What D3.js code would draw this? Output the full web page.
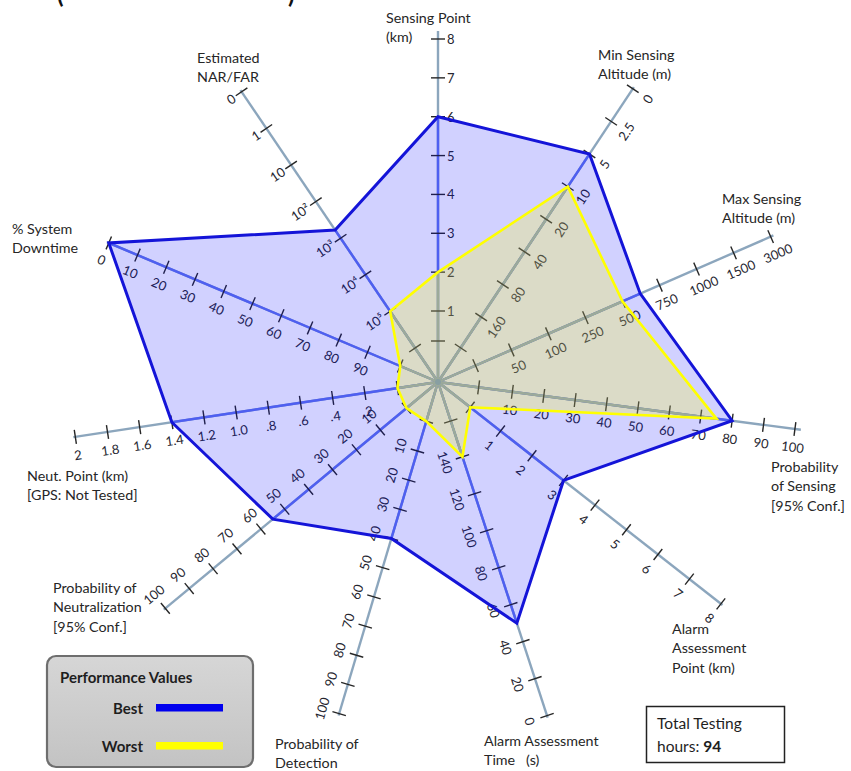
<!DOCTYPE html>
<html>
<head>
<meta charset="utf-8">
<script src="https://cdn.jsdelivr.net/npm/d3@7"></script>
<style>
  body { margin: 0; background: #ffffff; }
  svg { display: block; font-family: Lato, "Open Sans", "Noto Sans", sans-serif; }
</style>
</head>
<body>
<svg id="chart" width="851" height="771"></svg>
<script>
// ---- Data -------------------------------------------------------------
const axisNames = [
  ["Sensing Point", "(km)"],
  ["Min Sensing", "Altitude (m)"],
  ["Max Sensing", "Altitude (m)"],
  ["Probability", "of Sensing", "[95% Conf.]"],
  ["Alarm", "Assessment", "Point (km)"],
  ["Alarm Assessment", "Time   (s)"],
  ["Probability of", "Detection"],
  ["Probability of", "Neutralization", "[95% Conf.]"],
  ["Neut. Point (km)", "[GPS: Not Tested]"],
  ["% System", "Downtime"],
  ["Estimated", "NAR/FAR"]
];

// tick values on each axis, listed from the centre outwards
const tickValues = [
  [1, 2, 3, 4, 5, 6, 7, 8],
  [160, 80, 40, 20, 10, 5, 2.5, 0],
  [50, 100, 250, 500, 750, 1000, 1500, 3000],
  [10, 20, 30, 40, 50, 60, 70, 80, 90, 100],
  [1, 2, 3, 4, 5, 6, 7, 8],
  [140, 120, 100, 80, 60, 40, 20, 0],
  [10, 20, 30, 40, 50, 60, 70, 80, 90, 100],
  [10, 20, 30, 40, 50, 60, 70, 80, 90, 100],
  [0.2, 0.4, 0.6, 0.8, 1.0, 1.2, 1.4, 1.6, 1.8, 2],
  [90, 80, 70, 60, 50, 40, 30, 20, 10, 0],
  [1e5, 1e4, 1e3, 100, 10, 1, 0]
];

const tickLabels = [
  ["1", "2", "3", "4", "5", "6", "7", "8"],
  ["160", "80", "40", "20", "10", "5", "2.5", "0"],
  ["50", "100", "250", "500", "750", "1000", "1500", "3000"],
  ["10", "20", "30", "40", "50", "60", "70", "80", "90", "100"],
  ["1", "2", "3", "4", "5", "6", "7", "8"],
  ["140", "120", "100", "80", "60", "40", "20", "0"],
  ["10", "20", "30", "40", "50", "60", "70", "80", "90", "100"],
  ["10", "20", "30", "40", "50", "60", "70", "80", "90", "100"],
  [".2", ".4", ".6", ".8", "1.0", "1.2", "1.4", "1.6", "1.8", "2"],
  ["90", "80", "70", "60", "50", "40", "30", "20", "10", "0"],
  ["10\u2075", "10\u2074", "10\u00B3", "10\u00B2", "10", "1", "0"]
];

// value that sits on the unlabelled inner ring tick (null where none)
const ringValues = [0, null, null, 0, 0, null, 0, 0, 0, 100, null];

const seriesNames = ["Best", "Worst"];
const bestValues  = [6, 5, 620, 80, 3, 50, 40, 55, 1.4, 0, 800];
const worstValues = [2, 10, 500, 75, 0, 140, 0, 0, 0, 100, 1e5];

const legendTitle = "Performance Values";
const totalHours = 94;

// ---- Layout -----------------------------------------------------------
const cx = 438, cy = 382, ringR = 41;
const axisAngles = [-90, -56.4, -23.6, 7.5, 38.1, 71.9, 106.6, 140.3, 171.4, 202.9, 235.9];
const firstR = [71, 78, 80, 75, 79.5, 78.7, 72, 75, 74, 76.5, 85.3];
const lastR  = [343, 352, 363, 360, 359.5, 351, 346, 354.4, 366.8, 357.4, 350.4];
const lineExtra = [8, 2, 3, 6, 2, 2, 2, 2, 2, 2, 2];
const labelSide = [1, 1, 1, 1, 1, 1, 1, 1, -1, -1, -1];
const labelPerp = [true, false, false, false, false, false, false, false, false, false, true];
const titlePos = [[386, 17], [598, 54], [722, 198], [771, 466], [672, 628],
                  [484, 740], [275, 743], [53, 587], [27, 475], [12, 228], [197, 57]];
const seriesColors = ["#1414d8", "#ffff00"];
const seriesFill = ["rgba(0,0,255,0.18)", "rgba(255,255,0,0.22)"];
const axisColors = ["#8ca6bd", "#6074ee", "#9db4ba"]; // plain, inside best, inside worst

const svg = d3.select("#chart");
const defs = svg.append("defs");
const rad = a => a * Math.PI / 180;

const axes = axisNames.map((name, i) => {
  const a = rad(axisAngles[i]);
  const dir = [Math.cos(a), Math.sin(a)];
  const nrm = [-Math.sin(a), Math.cos(a)];
  const n = tickValues[i].length;
  const radii = d3.range(n).map(k => firstR[i] + (lastR[i] - firstR[i]) * k / (n - 1));
  const dom = ringValues[i] == null ? tickValues[i] : [ringValues[i], ...tickValues[i]];
  const rng = ringValues[i] == null ? radii : [ringR, ...radii];
  const scale = d3.scaleLinear().domain(dom).range(rng);
  const pt = r => [cx + r * dir[0], cy + r * dir[1]];
  return { i, deg: axisAngles[i], dir, nrm, scale, pt };
});

const series = [bestValues, worstValues].map((vals, s) => ({
  name: seriesNames[s],
  pts: vals.map((v, i) => axes[i].pt(axes[i].scale(v)))
}));
const line = d3.line().curve(d3.curveLinearClosed);

// clip regions of the two polygons (used to tint the spokes inside them)
series.forEach((d, s) => {
  defs.append("clipPath").attr("id", "clip" + s).append("path").attr("d", line(d.pts));
});

// ---- Axis lines -------------------------------------------------------
const gAxes = svg.append("g");
[null, 0, 1].forEach((clip, k) => {
  const g = gAxes.append("g");
  if (clip !== null) g.attr("clip-path", `url(#clip${clip})`);
  g.selectAll("line").data(axes).join("line")
    .attr("x1", cx).attr("y1", cy)
    .attr("x2", d => d.pt(lastR[d.i] + lineExtra[d.i])[0])
    .attr("y2", d => d.pt(lastR[d.i] + lineExtra[d.i])[1])
    .attr("stroke", axisColors[k]).attr("stroke-width", 2.4);
});

// ---- Ticks & tick labels ---------------------------------------------
const tickLen = 7;
axes.forEach(ax => {
  const g = gAxes.append("g");
  const ticks = tickValues[ax.i].map((v, k) => ({ v, label: tickLabels[ax.i][k], r: ax.scale(v) }));
  const marks = [{ r: ringR }, ...ticks];
  g.selectAll("line").data(marks).join("line")
    .attr("x1", d => ax.pt(d.r)[0] - ax.nrm[0] * tickLen)
    .attr("y1", d => ax.pt(d.r)[1] - ax.nrm[1] * tickLen)
    .attr("x2", d => ax.pt(d.r)[0] + ax.nrm[0] * tickLen)
    .attr("y2", d => ax.pt(d.r)[1] + ax.nrm[1] * tickLen)
    .attr("stroke", "#262626").attr("stroke-width", 1.4);

  const side = labelSide[ax.i];
  const perp = labelPerp[ax.i];
  const off = perp ? 9 : 18;
  let rot;
  if (perp) rot = ax.deg + 90;
  else rot = (ax.deg > 90 || ax.deg < -90) ? ax.deg - 180 : ax.deg;
  g.selectAll("text").data(ticks).join("text")
    .attr("transform", d => {
      const p = ax.pt(d.r);
      const x = p[0] + ax.nrm[0] * off * side;
      const y = p[1] + ax.nrm[1] * off * side;
      return `translate(${x},${y}) rotate(${rot})`;
    })
    .attr("text-anchor", perp ? (side > 0 ? "start" : "end") : "middle")
    .attr("dominant-baseline", "central")
    .attr("font-size", 13)
    .attr("fill", "#262630")
    .text(d => d.label);
});

// centre hub
svg.append("circle").attr("cx", cx).attr("cy", cy).attr("r", 3).attr("fill", "#7ea2c6");

// ---- Series polygons --------------------------------------------------
svg.append("g").selectAll("path").data(series).join("path")
  .attr("d", d => line(d.pts))
  .attr("fill", (d, s) => seriesFill[s])
  .attr("stroke", "none");
svg.append("g").selectAll("path").data(series).join("path")
  .attr("d", d => line(d.pts))
  .attr("fill", "none")
  .attr("stroke", (d, s) => seriesColors[s])
  .attr("stroke-width", (d, s) => s === 0 ? 3 : 2.6)
  .attr("stroke-linejoin", "miter");

// ---- Axis titles ------------------------------------------------------
const gTitles = svg.append("g").attr("font-size", 14.3).attr("fill", "#262626");
axisNames.forEach((lines, i) => {
  const t = gTitles.append("text")
    .attr("x", titlePos[i][0]).attr("y", titlePos[i][1])
    .attr("dominant-baseline", "central");
  lines.forEach((ln, k) => {
    t.append("tspan").attr("x", titlePos[i][0]).attr("dy", k === 0 ? 0 : 19.4)
      .style("white-space", "pre").text(ln);
  });
});

// clipped heading fragment along the top edge
const head = svg.append("g").attr("font-size", 24).attr("font-weight", "bold").attr("fill", "#111");
head.append("text").attr("x", 57).attr("y", 3).text("(");
head.append("text").attr("x", 288).attr("y", 3).text(")");

// ---- Legend -----------------------------------------------------------
const grad = defs.append("linearGradient").attr("id", "legendFill")
  .attr("x1", 0).attr("y1", 0).attr("x2", 0).attr("y2", 1);
grad.append("stop").attr("offset", "0%").attr("stop-color", "#d6d6d6");
grad.append("stop").attr("offset", "100%").attr("stop-color", "#c3c3c3");

const leg = svg.append("g");
leg.append("rect")
  .attr("x", 47).attr("y", 656).attr("width", 206).attr("height", 111)
  .attr("rx", 9).attr("fill", "url(#legendFill)")
  .attr("stroke", "#6e6e6e").attr("stroke-width", 2.2);
leg.append("text").attr("x", 60).attr("y", 677)
  .attr("dominant-baseline", "central")
  .attr("font-size", 15).attr("font-weight", "bold").attr("fill", "#1e1e1e")
  .text(legendTitle);
const legRows = seriesNames.map((n, s) => ({ n, s, y: s === 0 ? 708 : 746 }));
leg.selectAll("text.item").data(legRows).join("text")
  .attr("class", "item")
  .attr("x", 143).attr("y", d => d.y)
  .attr("text-anchor", "end").attr("dominant-baseline", "central")
  .attr("font-size", 15).attr("font-weight", "bold").attr("fill", "#1e1e1e")
  .text(d => d.n);
leg.selectAll("rect.item").data(legRows).join("rect")
  .attr("class", "item")
  .attr("x", 156).attr("y", d => d.y - 4).attr("width", 67).attr("height", 7.5)
  .attr("fill", d => d.s === 0 ? "#0000ee" : "#ffff00");

// ---- Total testing hours box -----------------------------------------
const tb = svg.append("g");
tb.append("rect")
  .attr("x", 646.5).attr("y", 706.5).attr("width", 138).attr("height", 56)
  .attr("fill", "#ffffff").attr("stroke", "#222222").attr("stroke-width", 1.5);
tb.append("text").attr("x", 657).attr("y", 723)
  .attr("dominant-baseline", "central").attr("font-size", 15.5).attr("fill", "#1e1e1e")
  .text("Total Testing");
const t2 = tb.append("text").attr("x", 657).attr("y", 746)
  .attr("dominant-baseline", "central").attr("font-size", 15.5).attr("fill", "#1e1e1e");
t2.append("tspan").text("hours: ");
t2.append("tspan").attr("font-weight", "bold").text(totalHours);
</script>
</body>
</html>
